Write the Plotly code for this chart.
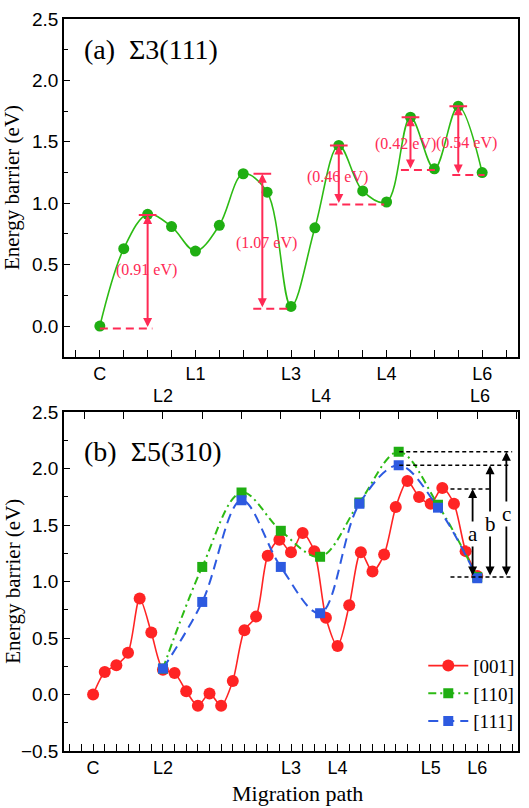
import plotly.graph_objects as go

# ---------------- Panel (a): Sigma3(111) ----------------
a_x = [0, 1, 2, 3, 4, 5, 6, 7, 8, 9, 10, 11, 12, 13, 14, 15, 16]
a_y = [0.00, 0.63, 0.91, 0.81, 0.61, 0.82, 1.24, 1.09, 0.16, 0.80,
       1.47, 1.10, 1.01, 1.70, 1.28, 1.79, 1.25]
a_tick_vals = [0, 4, 8, 12, 16]
a_tick_text = ['C', 'L1', 'L3', 'L4', 'L6']
a_row2_vals = [2.64, 9.24, 15.9]
a_row2_text = ['L2', 'L4', 'L6']

# barrier markers in panel (a)
bar_x = [2.0, 6.8, 10.0, 13.0, 15.0]
bar_top = [0.905, 1.24, 1.47, 1.70, 1.79]
bar_bot = [-0.02, 0.14, 0.99, 1.27, 1.23]
bar_base_from = [0.0, 6.42, 9.6, 12.6, 14.75]
bar_base_to = [2.2, 8.05, 11.9, 14.1, 16.1]
bar_label = ['(0.91 eV)', '(1.07 eV)', '(0.46 eV)', '(0.42 eV)', '(0.54 eV)']
bar_label_x = [1.96, 6.97, 9.93, 12.8, 15.35]
bar_label_y = [0.455, 0.677, 1.21, 1.486, 1.49]
cap_half = 0.37

# ---------------- Panel (b): Sigma5(310) ----------------
b_x = list(range(34))
b_001 = [0.00, 0.20, 0.26, 0.37, 0.85, 0.55, 0.22, 0.19, 0.03, -0.10,
         0.01, -0.10, 0.12, 0.57, 0.69, 1.23, 1.37, 1.26, 1.43, 1.27,
         0.68, 0.43, 0.79, 1.26, 1.09, 1.24, 1.66, 1.89, 1.75, 1.69,
         1.83, 1.69, 1.27, 1.05]
b_sq_x = [6, 9.375, 12.75, 16.125, 19.5, 22.875, 26.25, 29.625, 33]
b_110 = [0.23, 1.13, 1.79, 1.45, 1.22, 1.70, 2.15, 1.68, 1.04]
b_111 = [0.23, 0.82, 1.72, 1.13, 0.72, 1.69, 2.03, 1.655, 1.03]
b_tick_vals = [0, 6, 17, 21, 29, 33]
b_tick_text = ['C', 'L2', 'L3', 'L4', 'L5', 'L6']
b_top_ticks = [-0.75, 2.625, 6, 9.375, 12.75, 16.125, 19.5, 22.875,
               26.25, 29.625, 33, 36.375]

# reference levels a, b, c
lvl_y = [2.15, 2.03, 1.82, 1.04]
lvl_from = [26.3, 26.3, 30.7, 30.7]
lvl_to = [36.0, 35.7, 34.3, 36.1]
abc_x = [32.6, 34.1, 35.5]
abc_top = [1.82, 2.03, 2.15]
abc_base = 1.04
abc_label = ['a', 'b', 'c']
abc_label_y = [1.42, 1.51, 1.60]

GREEN_M = '#1fae12'
GREEN_L = '#2dbb14'
RED = '#ff2424'
BLUE = '#2d5ae0'
PINK = '#ff2a55'
SERIF = 'Liberation Serif, Times New Roman, serif'
SANS = 'Liberation Sans, Arial, sans-serif'

fig = go.Figure()

fig.add_trace(go.Scatter(
    x=a_x, y=a_y, mode='lines+markers', xaxis='x', yaxis='y',
    line=dict(color=GREEN_L, width=1.6, shape='spline', smoothing=1.0),
    marker=dict(symbol='circle', size=11, color=GREEN_M),
    showlegend=False))

fig.add_trace(go.Scatter(
    x=b_x, y=b_001, mode='lines+markers', xaxis='x2', yaxis='y2',
    name='[001]',
    line=dict(color=RED, width=1.6, shape='spline', smoothing=0.8),
    marker=dict(symbol='circle', size=12, color=RED)))
fig.add_trace(go.Scatter(
    x=b_sq_x, y=b_110, mode='lines+markers', xaxis='x2', yaxis='y2',
    name='[110]',
    line=dict(color=GREEN_L, width=2, shape='spline', smoothing=1.0,
              dash='8px,4px,2px,4px'),
    marker=dict(symbol='square', size=10, color=GREEN_M)))
fig.add_trace(go.Scatter(
    x=b_sq_x, y=b_111, mode='lines+markers', xaxis='x2', yaxis='y2',
    name='[111]',
    line=dict(color=BLUE, width=2, shape='spline', smoothing=1.0,
              dash='10px,6px'),
    marker=dict(symbol='square', size=10, color=BLUE)))
# invisible trace for the top tick axis of panel (b)
fig.add_trace(go.Scatter(x=[b_top_ticks[0]], y=[0], xaxis='x3', yaxis='y2',
                         mode='markers', marker=dict(opacity=0),
                         showlegend=False, hoverinfo='skip'))

shapes = []
annotations = []

# panel (a) barriers
for i in range(len(bar_x)):
    shapes.append(dict(type='line', xref='x', yref='y',
                       x0=bar_x[i] - cap_half, x1=bar_x[i] + cap_half,
                       y0=bar_top[i], y1=bar_top[i],
                       line=dict(color=PINK, width=2)))
    shapes.append(dict(type='line', xref='x', yref='y',
                       x0=bar_base_from[i], x1=bar_base_to[i],
                       y0=bar_bot[i], y1=bar_bot[i],
                       line=dict(color=PINK, width=2, dash='8px,5px')))
    annotations.append(dict(xref='x', yref='y', axref='x', ayref='y',
                            x=bar_x[i], y=bar_top[i], ax=bar_x[i], ay=bar_bot[i],
                            text='', showarrow=True, arrowside='end+start',
                            arrowhead=2, startarrowhead=2, arrowsize=0.9,
                            startarrowsize=0.9, arrowwidth=2, arrowcolor=PINK,
                            standoff=0, startstandoff=0))
    annotations.append(dict(xref='x', yref='y', x=bar_label_x[i], y=bar_label_y[i],
                            text=bar_label[i], showarrow=False,
                            font=dict(family=SERIF, size=16, color=PINK)))

# panel (b) levels
for i in range(len(lvl_y)):
    shapes.append(dict(type='line', xref='x2', yref='y2',
                       x0=lvl_from[i], x1=lvl_to[i], y0=lvl_y[i], y1=lvl_y[i],
                       line=dict(color='black', width=1.5, dash='4px,3px')))
for i in range(len(abc_x)):
    annotations.append(dict(xref='x2', yref='y2', axref='x2', ayref='y2',
                            x=abc_x[i], y=abc_top[i], ax=abc_x[i], ay=abc_base,
                            text='', showarrow=True, arrowside='end+start',
                            arrowhead=2, startarrowhead=2, arrowsize=1.0,
                            startarrowsize=1.0, arrowwidth=1.8, arrowcolor='black',
                            standoff=0, startstandoff=0))
    annotations.append(dict(xref='x2', yref='y2', x=abc_x[i], y=abc_label_y[i],
                            text=abc_label[i], showarrow=False, bgcolor='white',
                            borderpad=0,
                            font=dict(family=SERIF, size=21, color='black')))

# panel titles
annotations.append(dict(xref='x', yref='y', x=-0.75, y=2.255, xanchor='left',
                        text='(a)&nbsp;&nbsp;Σ3(111)', showarrow=False,
                        font=dict(family=SERIF, size=28, color='black')))
annotations.append(dict(xref='x2', yref='y2', x=-0.97, y=2.155, xanchor='left',
                        text='(b)&nbsp;&nbsp;Σ5(310)', showarrow=False,
                        font=dict(family=SERIF, size=28, color='black')))

# second row labels panel (a)
for v, t in zip(a_row2_vals, a_row2_text):
    annotations.append(dict(xref='x', yref='y domain', x=v, y=0, yshift=-39,
                            yanchor='middle', text=t, showarrow=False,
                            font=dict(family=SANS, size=18, color='black')))

# axis titles
for yr in ['y domain', 'y2 domain']:
    annotations.append(dict(xref='paper', yref=yr, x=(12 - 64) / 456, y=0.5,
                            xanchor='center', yanchor='middle', textangle=-90,
                            text='Energy barrier (eV)', showarrow=False,
                            font=dict(family=SERIF, size=21, color='black')))
annotations.append(dict(xref='paper', yref='paper', x=0.515, y=0, yshift=-42,
                        xanchor='center', yanchor='middle',
                        text='Migration path', showarrow=False,
                        font=dict(family=SERIF, size=22, color='black')))

axis_common = dict(showline=True, linecolor='black', linewidth=1.5, mirror=True,
                   showgrid=False, zeroline=False, ticks='inside',
                   tickcolor='black', tickwidth=1.3,
                   tickfont=dict(family=SANS, size=18, color='black'))

a_all = list(range(-1, 18))
a_txt = [a_tick_text[a_tick_vals.index(v)] if v in a_tick_vals else '' for v in a_all]
b_all = list(range(-2, 37))
b_txt = [b_tick_text[b_tick_vals.index(v)] if v in b_tick_vals else '' for v in b_all]

fig.update_layout(
    width=529, height=808,
    margin=dict(l=64, r=9, t=12, b=57),
    paper_bgcolor='white', plot_bgcolor='white',
    shapes=shapes, annotations=annotations,
    xaxis=dict(axis_common, domain=[0, 1], anchor='y', range=[-1.5, 17.5],
               tickmode='array', tickvals=a_all, ticktext=a_txt, ticklen=7),
    yaxis=dict(axis_common, domain=[0.5386, 1], anchor='x', range=[-0.25, 2.5],
               tickmode='linear', tick0=0, dtick=0.5, tickformat='.1f', ticklen=6,
               minor=dict(ticks='inside', dtick=0.25, tick0=0, ticklen=4,
                          tickcolor='black', tickwidth=1.3),
               tickfont=dict(family=SANS, size=19, color='black')),
    xaxis2=dict(axis_common, domain=[0, 1], anchor='y2', range=[-2.5, 36.5],
                tickmode='array', tickvals=b_all, ticktext=b_txt, ticklen=7),
    xaxis3=dict(domain=[0, 1], anchor='y2', overlaying='x2', side='top',
                range=[-2.5, 36.5], tickmode='array', tickvals=b_top_ticks,
                ticks='inside', ticklen=7, tickcolor='black', tickwidth=1.3,
                showticklabels=False, showline=False, showgrid=False,
                zeroline=False),
    yaxis2=dict(axis_common, domain=[0, 0.4628], anchor='x2', range=[-0.5, 2.5],
                tickmode='linear', tick0=0, dtick=0.5, tickformat='.1f', ticklen=6,
                minor=dict(ticks='inside', dtick=0.25, tick0=0, ticklen=4,
                           tickcolor='black', tickwidth=1.3),
                tickfont=dict(family=SANS, size=19, color='black')),
    legend=dict(x=1.005, y=0.014, xanchor='right', yanchor='bottom',
                bgcolor='rgba(0,0,0,0)', borderwidth=0,
                font=dict(family=SERIF, size=19, color='black'),
                tracegroupgap=0, itemwidth=40),
    showlegend=True,
)

fig.write_html('out.html',
               config={'displayModeBar': False},
               post_script="document.body.style.margin='0';"
                           "document.body.style.overflow='hidden';")
